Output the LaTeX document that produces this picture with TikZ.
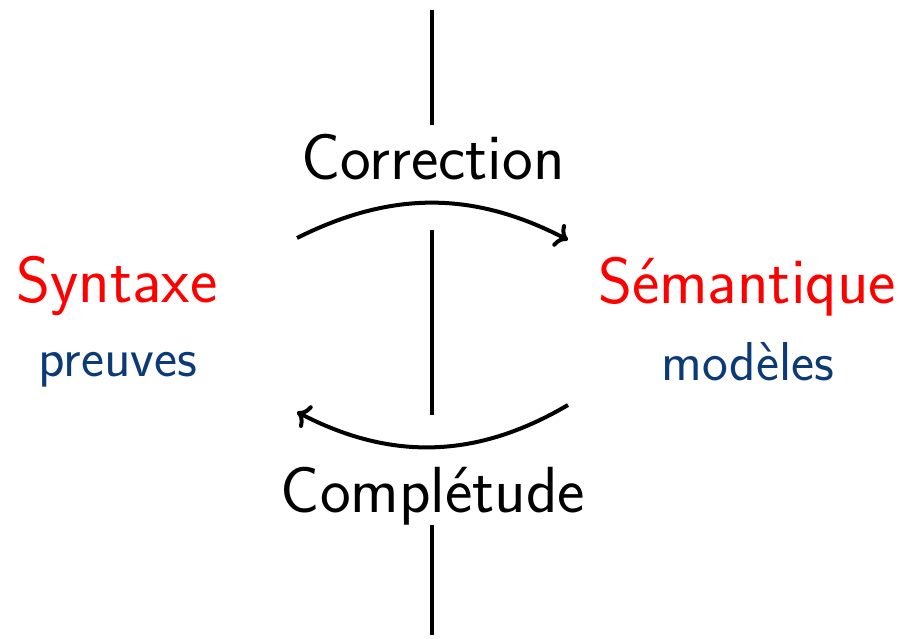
\documentclass[tikz,border=0pt]{standalone}
\usepackage{fontspec}
\usepackage{xcolor}
\usepackage{tikz}
\usetikzlibrary{arrows.meta,positioning}

\definecolor{navyblue}{RGB}{12,58,118}

\begin{document}
\begin{tikzpicture}[
  x=0.5pt,y=0.5pt,
  big/.style={font=\sffamily\fontsize{32.6}{38}\selectfont,inner sep=0pt,anchor=base},
  side/.style={big,text=red},
  sub/.style={font=\sffamily\fontsize{27.4}{32}\selectfont,inner sep=0pt,anchor=base,text=navyblue},
  axis/.style={line width=2pt},
  arc/.style={line width=2pt,->}
]
\useasboundingbox (0,0) rectangle (900,638);
\node[side] (syn) at (117,335) {Syntaxe};
\node[sub] (prv) at (118,261) {preuves};
\node[side] (sem) at (747,334) {Sémantique};
\node[sub] (mod) at (748,257) {modèles};
\node[big] (corr) at (433,458) {Correction};
\node[big] (comp) at (433,126) {Complétude};
% vertical separator
\coordinate (l1) at (432,628);
\coordinate (l2) at (432,513);
\coordinate (l3) at (432,408);
\coordinate (l4) at (432,223);
\coordinate (l5) at (432,113);
\coordinate (l6) at (432,3);
\draw[axis] (l1) -- (l2);
\draw[axis] (l3) -- (l4);
\draw[axis] (l5) -- (l6);
% arrows
\coordinate (ta) at (297,400);
\coordinate (tb) at (568,398);
\coordinate (ba) at (568,233);
\coordinate (bb) at (297,226);
\draw[arc] (ta) to[bend left=27] (tb);
\draw[arc] (ba) to[bend left=29] (bb);
\end{tikzpicture}
\end{document}
